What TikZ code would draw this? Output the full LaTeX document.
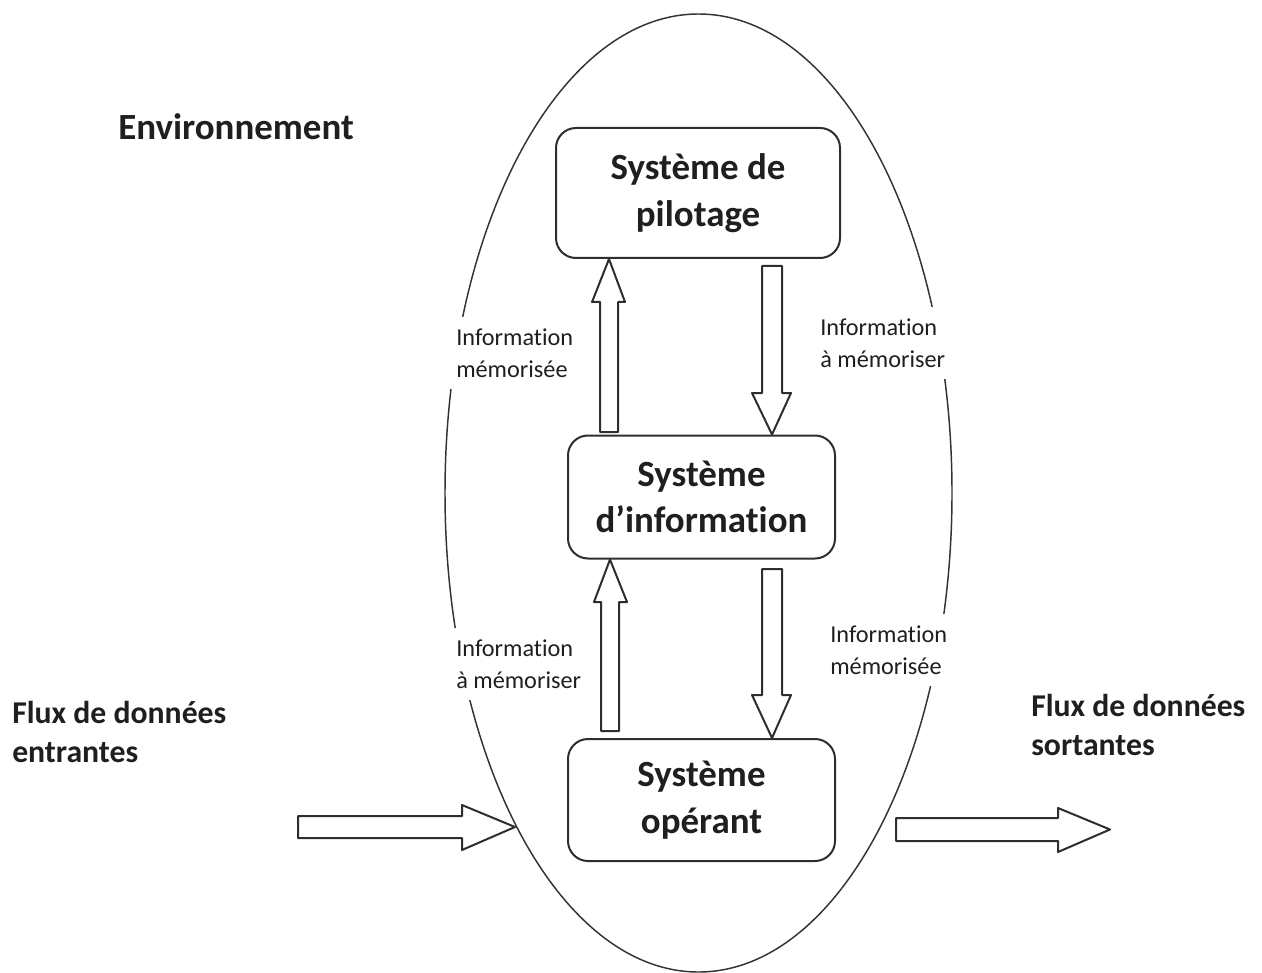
\documentclass[tikz,border=0pt]{standalone}
\usepackage{fontspec}
\setmainfont[Ligatures=NoCommon]{Carlito}
\begin{document}
\begin{tikzpicture}[x=0.75pt,y=-0.75pt,
  ink/.style={draw=black!82, line width=1.5pt, line join=round},
  sysbox/.style={ink, rounded corners=15pt, inner sep=0pt, align=center,
    font=\fontsize{27.7}{35}\selectfont\bfseries, text=black!88},
  flowlabel/.style={fill=white, inner xsep=6pt, inner ysep=9pt, align=left,
    font=\fontsize{18.2}{24}\selectfont, text=black!88},
  heading/.style={inner sep=0pt, align=left, text=black!88},
  blockarrow/.style={ink, fill=white}]
  \useasboundingbox (0,0) rectangle (1262,973);

  % the organisation as a whole
  \draw[black!80, line width=1.1pt] (698.5,493) ellipse [x radius=253.5, y radius=479];

  % the three subsystems
  \node[sysbox, minimum width=213pt, minimum height=97.5pt] (pilot) at (698,193) {Système de\\pilotage};
  \node[sysbox, minimum width=200.25pt, minimum height=92.25pt] (info) at (701.5,497) {Système\\d’information};
  \node[sysbox, minimum width=200.25pt, minimum height=91.5pt] (oper) at (701.5,800) {Système\\opérant};

  % labels of the internal flows (white patches interrupt the ellipse)
  \node[flowlabel, anchor=west] (l1) at (448,353) {Information\\mémorisée};
  \node[flowlabel, anchor=west] (l2) at (812,343) {Information\\à mémoriser};
  \node[flowlabel, anchor=west] (l3) at (448,664) {Information\\à mémoriser};
  \node[flowlabel, anchor=west] (l4) at (822,650) {Information\\mémorisée};

  % outside labels
  \node[heading, anchor=west, font=\fontsize{27.7}{35}\selectfont\bfseries] (env) at (118,127) {Environnement};
  \node[heading, anchor=west, font=\fontsize{23.8}{29.5}\selectfont\bfseries] (fin) at (12,732) {Flux de données\\entrantes};
  \node[heading, anchor=west, font=\fontsize{23.8}{29.5}\selectfont\bfseries] (fout) at (1031,725) {Flux de données\\sortantes};

  % tips of the block arrows on the boxes and on the ellipse
  \coordinate (t1) at (pilot.south -| 609,0);
  \coordinate (t2) at (info.north -| 772,0);
  \coordinate (t3) at (info.south -| 610,0);
  \coordinate (t4) at (oper.north -| 772,0);
  \coordinate (t5) at (515,827);
  \coordinate (t6) at (1110,829.5);

  % information memorised: information system -> steering system
  \draw[blockarrow] (600,432) -- (600,302) -- (592,302) -- (t1) -- (625,302) -- (618,302) -- (618,432) -- cycle;
  % information to memorise: steering system -> information system
  \draw[blockarrow] (762,266) -- (762,393) -- (752,393) -- (t2) -- (791,393) -- (782,393) -- (782,266) -- cycle;
  % information to memorise: operating system -> information system
  \draw[blockarrow] (601,731) -- (601,602) -- (594,602) -- (t3) -- (627,602) -- (619,602) -- (619,731) -- cycle;
  % information memorised: information system -> operating system
  \draw[blockarrow] (762,569) -- (762,695) -- (752,695) -- (t4) -- (791,695) -- (782,695) -- (782,569) -- cycle;

  % incoming and outgoing data flows
  \draw[blockarrow] (298,816) -- (462,816) -- (462,805) -- (t5) -- (462,850) -- (462,838) -- (298,838) -- cycle;
  \draw[blockarrow] (896,818) -- (1058,818) -- (1058,808) -- (t6) -- (1058,852) -- (1058,841) -- (896,841) -- cycle;
\end{tikzpicture}
\end{document}
